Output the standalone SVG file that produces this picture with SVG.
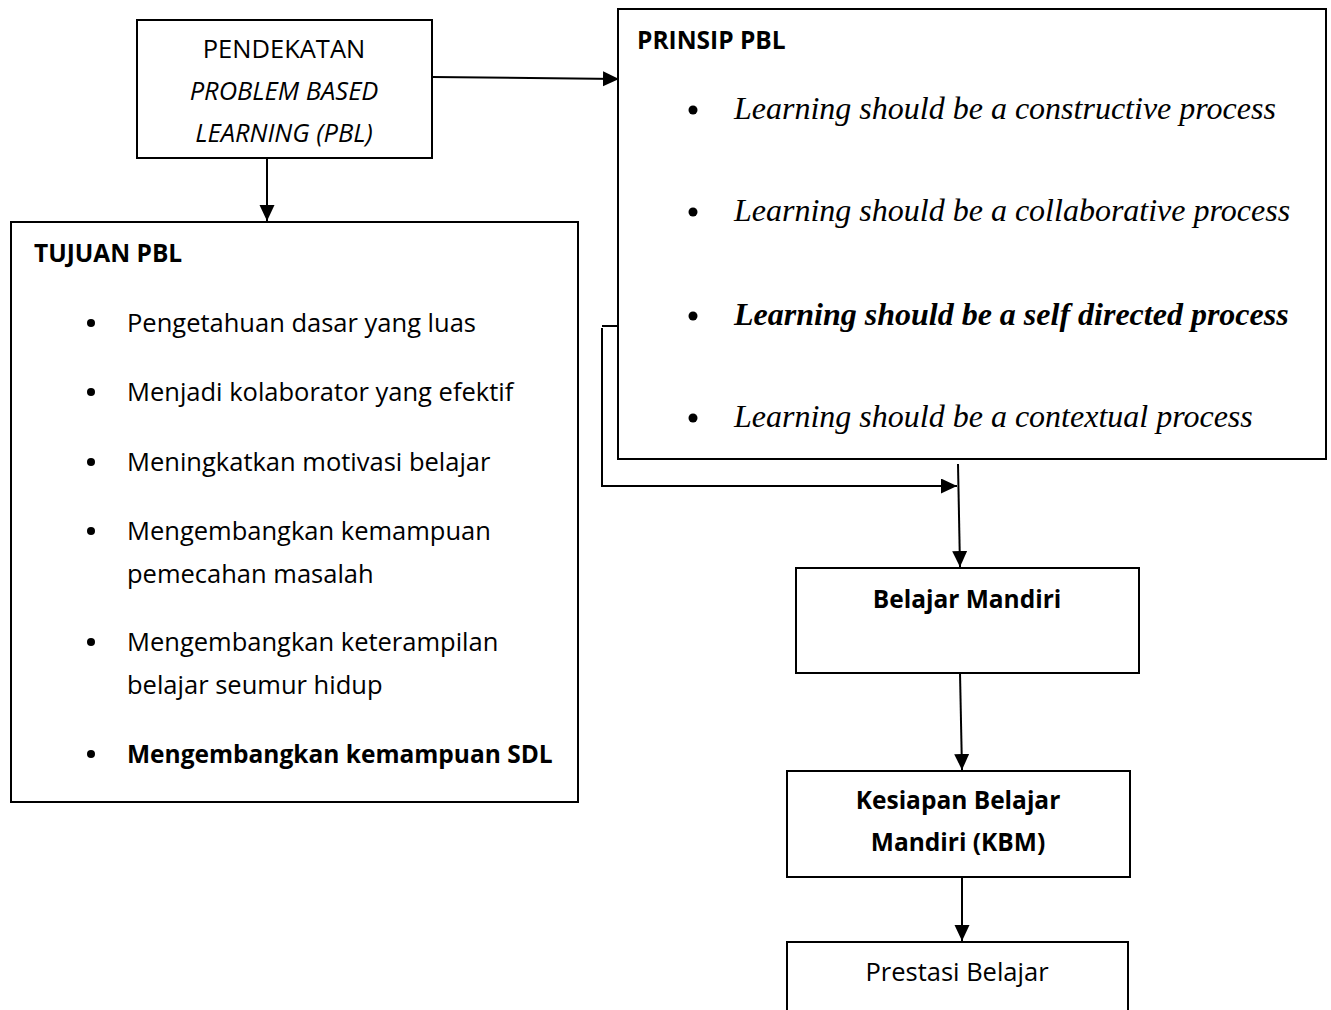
<svg xmlns="http://www.w3.org/2000/svg" width="1331" height="1010" viewBox="0 0 1331 1010">
<style>
.box{fill:#fff;stroke:#000;stroke-width:2}
.conn{fill:none;stroke:#000;stroke-width:2}
.sans{font-family:"Open Sans","Noto Sans","Liberation Sans",sans-serif;font-size:25.5px;fill:#000}
.b{font-weight:bold;font-size:24.5px}
.it{font-style:italic}
.serif{font-family:"Liberation Serif","Times New Roman",serif;font-size:32px;font-style:italic;fill:#000}
.dot{fill:#000}
</style>
<defs>
<marker id="arr" markerUnits="userSpaceOnUse" markerWidth="18" markerHeight="16" refX="16" refY="7.5" orient="auto">
<path d="M0,0 L16,7.5 L0,15 Z" fill="#000"/>
</marker>
</defs>
<g id="connectors">
<line class="conn" x1="432" y1="77" x2="619" y2="79" marker-end="url(#arr)"/>
<line class="conn" x1="267" y1="158" x2="267" y2="221" marker-end="url(#arr)"/>
<polyline class="conn" points="617,326 602,326"/>
<polyline class="conn" points="602,328 602,486 957,486" marker-end="url(#arr)"/>
<line class="conn" x1="958" y1="464" x2="960" y2="567" marker-end="url(#arr)"/>
<line class="conn" x1="960" y1="673" x2="962" y2="770" marker-end="url(#arr)"/>
<line class="conn" x1="962" y1="872" x2="962" y2="941" marker-end="url(#arr)"/>
</g>
<g id="pendekatan">
<rect class="box" x="137" y="20" width="295" height="138"/>
<text class="sans" x="284" y="58" text-anchor="middle">PENDEKATAN</text>
<text class="sans it" x="284" y="100" text-anchor="middle">PROBLEM BASED</text>
<text class="sans it" x="284" y="142" text-anchor="middle">LEARNING (PBL)</text>
</g>
<g id="prinsip">
<rect class="box" x="618" y="9" width="708" height="450"/>
<text class="sans b" x="637" y="49">PRINSIP PBL</text>
<circle class="dot" cx="693" cy="110" r="4.5"/>
<text class="serif" x="734" y="119">Learning should be a constructive process</text>
<circle class="dot" cx="693" cy="212" r="4.5"/>
<text class="serif" x="734" y="221">Learning should be a collaborative process</text>
<circle class="dot" cx="693" cy="316" r="4.5"/>
<text class="serif" x="734" y="325" font-weight="bold">Learning should be a self directed process</text>
<circle class="dot" cx="693" cy="418" r="4.5"/>
<text class="serif" x="734" y="427">Learning should be a contextual process</text>
</g>
<g id="tujuan">
<rect class="box" x="11" y="222" width="567" height="580"/>
<text class="sans b" x="34" y="262">TUJUAN PBL</text>
<circle class="dot" cx="91" cy="323" r="4"/>
<text class="sans" x="127" y="332">Pengetahuan dasar yang luas</text>
<circle class="dot" cx="91" cy="392" r="4"/>
<text class="sans" x="127" y="401">Menjadi kolaborator yang efektif</text>
<circle class="dot" cx="91" cy="462" r="4"/>
<text class="sans" x="127" y="471">Meningkatkan motivasi belajar</text>
<circle class="dot" cx="91" cy="531" r="4"/>
<text class="sans" x="127" y="540">Mengembangkan kemampuan</text>
<text class="sans" x="127" y="583">pemecahan masalah</text>
<circle class="dot" cx="91" cy="642" r="4"/>
<text class="sans" x="127" y="651">Mengembangkan keterampilan</text>
<text class="sans" x="127" y="694">belajar seumur hidup</text>
<circle class="dot" cx="91" cy="754" r="4"/>
<text class="sans b" x="127" y="763">Mengembangkan kemampuan SDL</text>
</g>
<g id="belajar-mandiri">
<rect class="box" x="796" y="568" width="343" height="105"/>
<text class="sans b" x="967" y="608" text-anchor="middle">Belajar Mandiri</text>
</g>
<g id="kbm">
<rect class="box" x="787" y="771" width="343" height="106"/>
<text class="sans b" x="958" y="809" text-anchor="middle">Kesiapan Belajar</text>
<text class="sans b" x="958" y="851" text-anchor="middle">Mandiri (KBM)</text>
</g>
<g id="prestasi">
<rect class="box" x="787" y="942" width="341" height="80"/>
<text class="sans" x="957" y="981" text-anchor="middle">Prestasi Belajar</text>
</g>
</svg>
